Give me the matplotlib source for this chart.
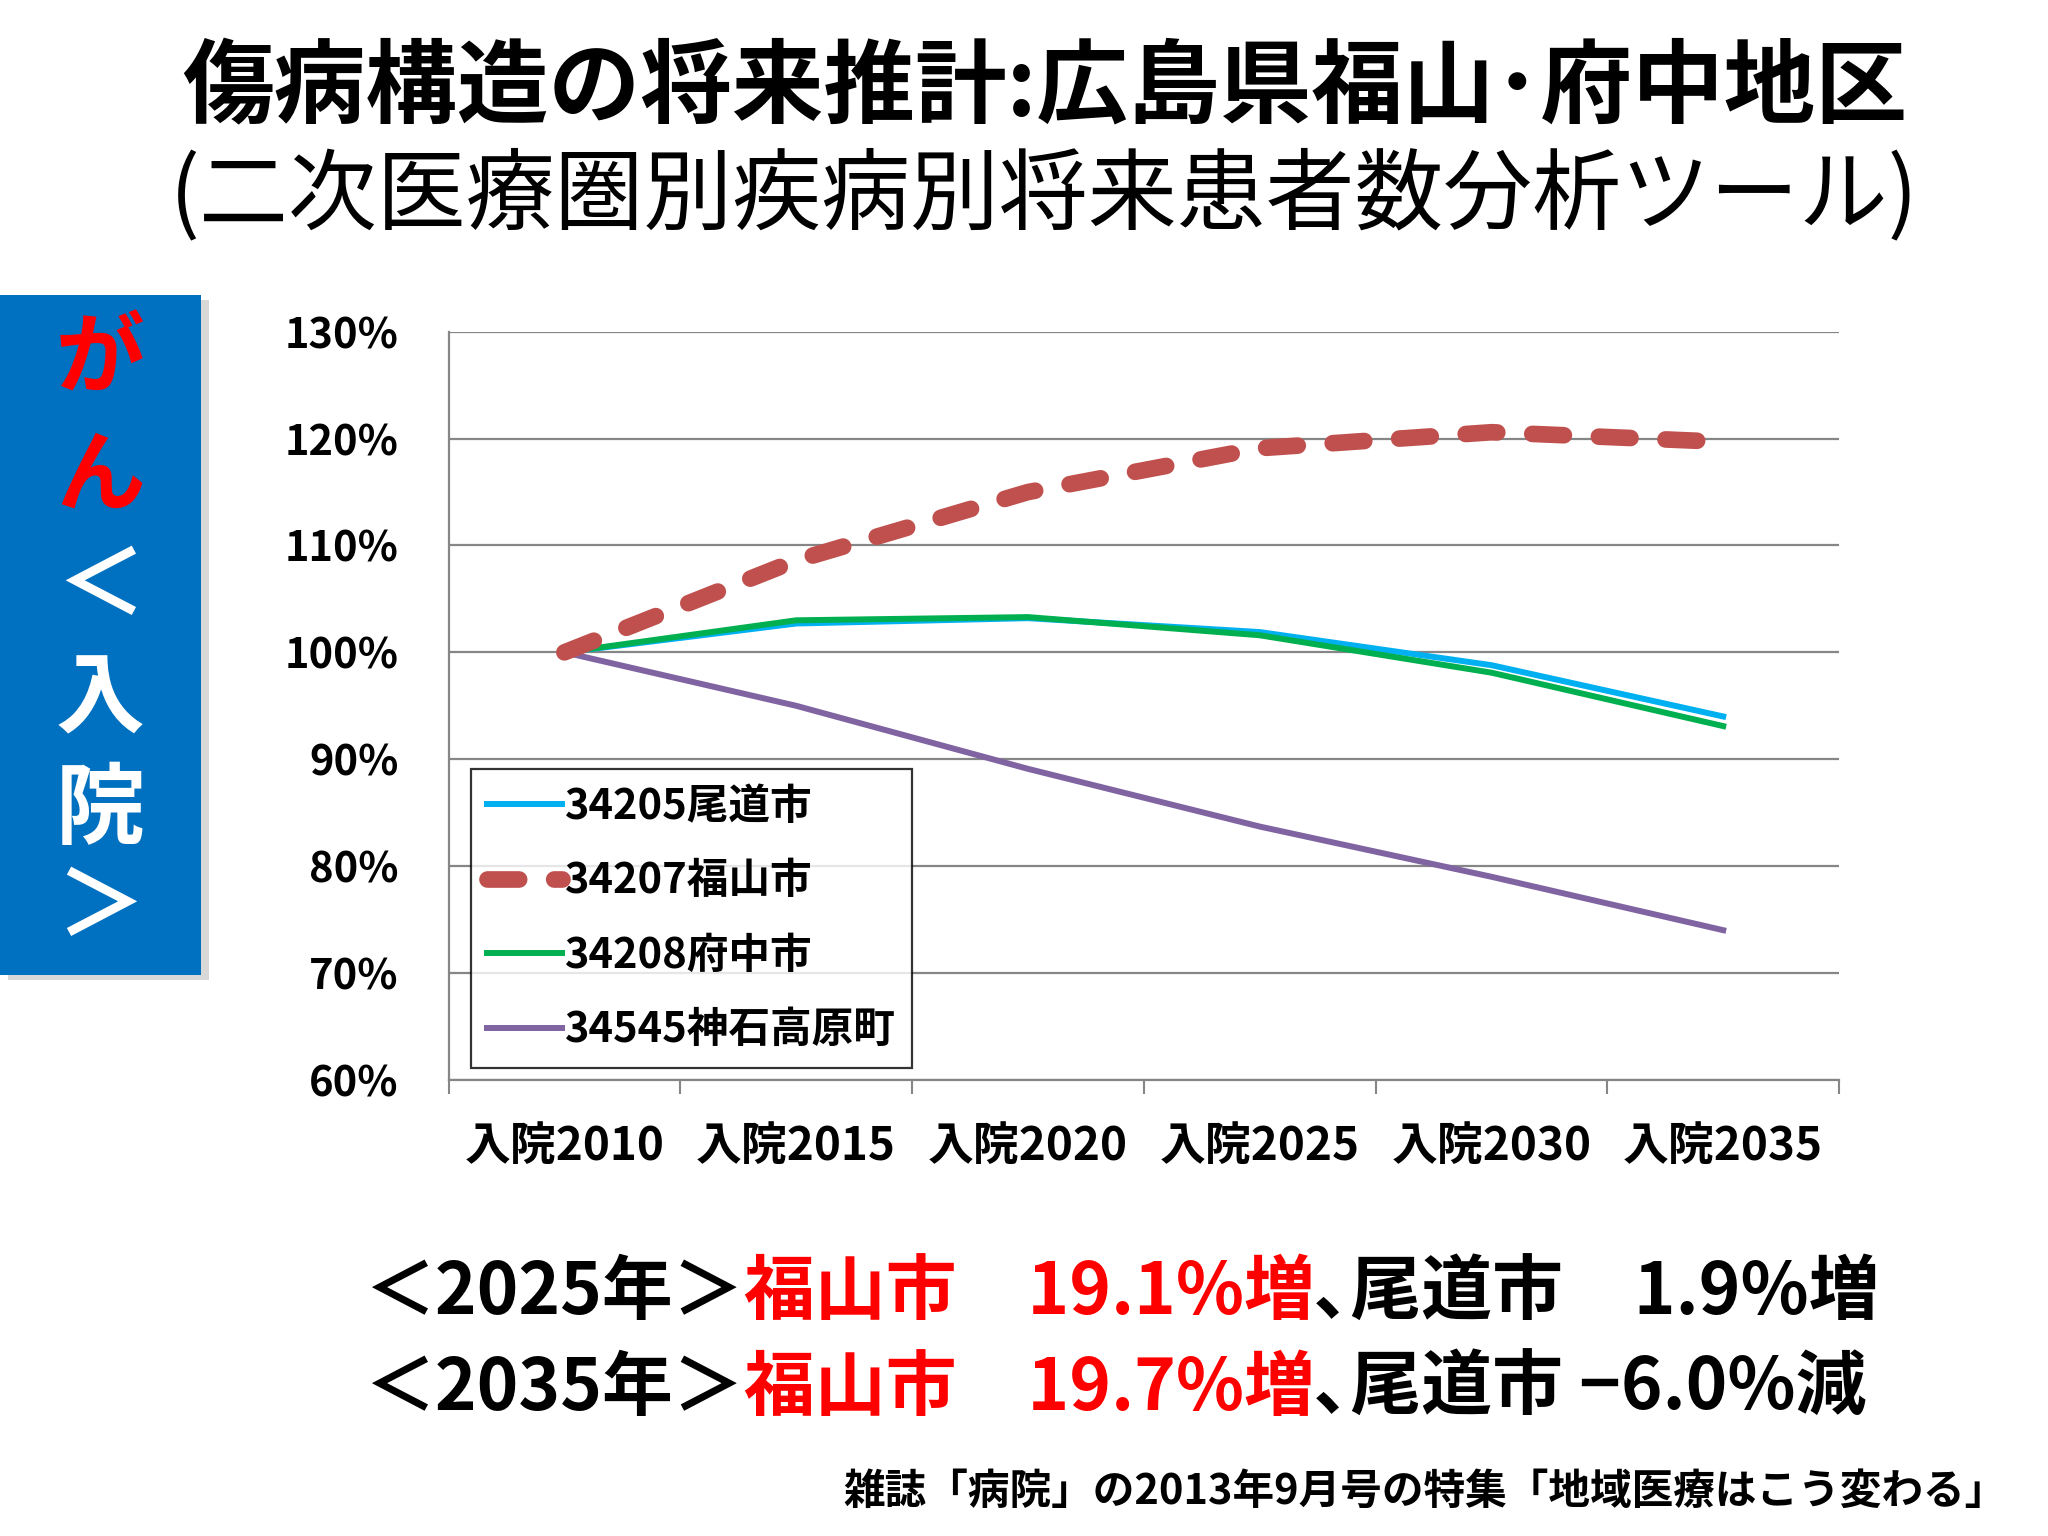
import matplotlib
matplotlib.use("Agg")
import matplotlib.pyplot as plt
from matplotlib.patches import Rectangle
from matplotlib.offsetbox import TextArea, HPacker, AnchoredOffsetbox

plt.rcParams['font.family'] = ['Noto Sans CJK JP', 'DejaVu Sans']

categories = ['入院2010', '入院2015', '入院2020', '入院2025', '入院2030', '入院2035']
onomichi = [100.0, 102.7, 103.2, 101.9, 98.8, 94.0]
fukuyama = [100.0, 108.6, 115.0, 119.1, 120.6, 119.7]
fuchu = [100.0, 103.0, 103.3, 101.6, 98.1, 93.1]
jinseki = [100.0, 95.0, 89.1, 83.7, 79.0, 74.0]
series_names = ['34205尾道市', '34207福山市', '34208府中市', '34545神石高原町']
yticks = [60, 70, 80, 90, 100, 110, 120, 130]

fig = plt.figure(figsize=(20.48, 15.36), dpi=100)
ax = fig.add_axes([0.219, 0.297, 0.679, 0.487])

x = range(len(categories))
ax.plot(x, onomichi, color='#00B0F0', lw=4.3, label=series_names[0], zorder=3)
ax.plot(x, fukuyama, color='#C0504D', lw=12, dashes=(1.9, 2.1), dash_capstyle='round',
        label=series_names[1], zorder=4)
ax.plot(x, fuchu, color='#00B050', lw=4.3, label=series_names[2], zorder=3)
ax.plot(x, jinseki, color='#8064A2', lw=4.3, label=series_names[3], zorder=3)

ax.set_xlim(-0.5, len(categories) - 0.5)
ax.set_ylim(60, 130)
ax.set_yticks(yticks)
ax.set_yticklabels([f'{v}%' for v in yticks], fontsize=30, fontweight='bold')
ax.set_xticks(list(x))
ax.set_xticklabels(categories, fontsize=33, fontweight='bold')
ax.set_xticks([i - 0.5 for i in range(len(categories) + 1)], minor=True)
ax.tick_params(axis='x', which='major', length=0, pad=32)
ax.tick_params(axis='x', which='minor', length=10, width=1.5, color='#868686')
ax.tick_params(axis='y', length=0, pad=36)
ax.grid(axis='y', color='#868686', lw=1.6)
ax.set_axisbelow(True)
for s in ['top', 'right']:
    ax.spines[s].set_visible(False)
for s in ['left', 'bottom']:
    ax.spines[s].set_color('#868686')
    ax.spines[s].set_linewidth(1.6)

leg = ax.legend(loc='lower left', bbox_to_anchor=(0.016, 0.016),
                prop={'weight': 'bold', 'size': 30}, frameon=True, fancybox=False,
                handlelength=1.8, handletextpad=0.05, labelspacing=0.78,
                borderpad=0.4, borderaxespad=0)
leg.get_frame().set_edgecolor('black')
leg.get_frame().set_linewidth(1.6)

# titles
fig.text(0.51, 0.942, '傷病構造の将来推計:広島県福山･府中地区', ha='center', va='center',
         fontsize=66, fontweight='bold')
fig.text(0.51, 0.872, '(二次医療圏別疾病別将来患者数分析ツール)', ha='center', va='center',
         fontsize=64)

# left blue box
fig.patches.append(Rectangle((0.004, 0.362), 0.098, 0.443, transform=fig.transFigure,
                             facecolor='#BFBFBF', edgecolor='none', alpha=0.6, zorder=0))
fig.patches.append(Rectangle((0.0, 0.365), 0.098, 0.443, transform=fig.transFigure,
                             facecolor='#0070C0', edgecolor='none', zorder=1))
box_chars = [('が', 'red', 0.765), ('ん', 'red', 0.689), ('＜', 'white', 0.617),
             ('入', 'white', 0.544), ('院', 'white', 0.472), ('＞', 'white', 0.408)]
for ch, col, yy in box_chars:
    fig.text(0.049, yy, ch, ha='center', va='center', fontsize=64, fontweight='bold',
             color=col, zorder=2)

# summary lines
lines = [
    [('＜2025年＞', 'black'), ('福山市　19.1%増', 'red'), ('､尾道市　1.9%増', 'black')],
    [('＜2035年＞', 'black'), ('福山市　19.7%増', 'red'), ('､尾道市 −6.0%減', 'black')],
]
for i, parts in enumerate(lines):
    areas = [TextArea(t, textprops=dict(color=c, fontsize=51, fontweight='bold'))
             for t, c in parts]
    box = HPacker(children=areas, pad=0, sep=0)
    anc = AnchoredOffsetbox(loc='center left', child=box, pad=0, frameon=False,
                            bbox_to_anchor=(0.178, 0.158 - i * 0.062),
                            bbox_transform=fig.transFigure, borderpad=0)
    fig.add_artist(anc)

fig.text(0.98, 0.029, '雑誌「病院」の2013年9月号の特集「地域医療はこう変わる」',
         ha='right', va='center', fontsize=30, fontweight='bold')

fig.savefig('out.png', dpi=100, facecolor='white')
